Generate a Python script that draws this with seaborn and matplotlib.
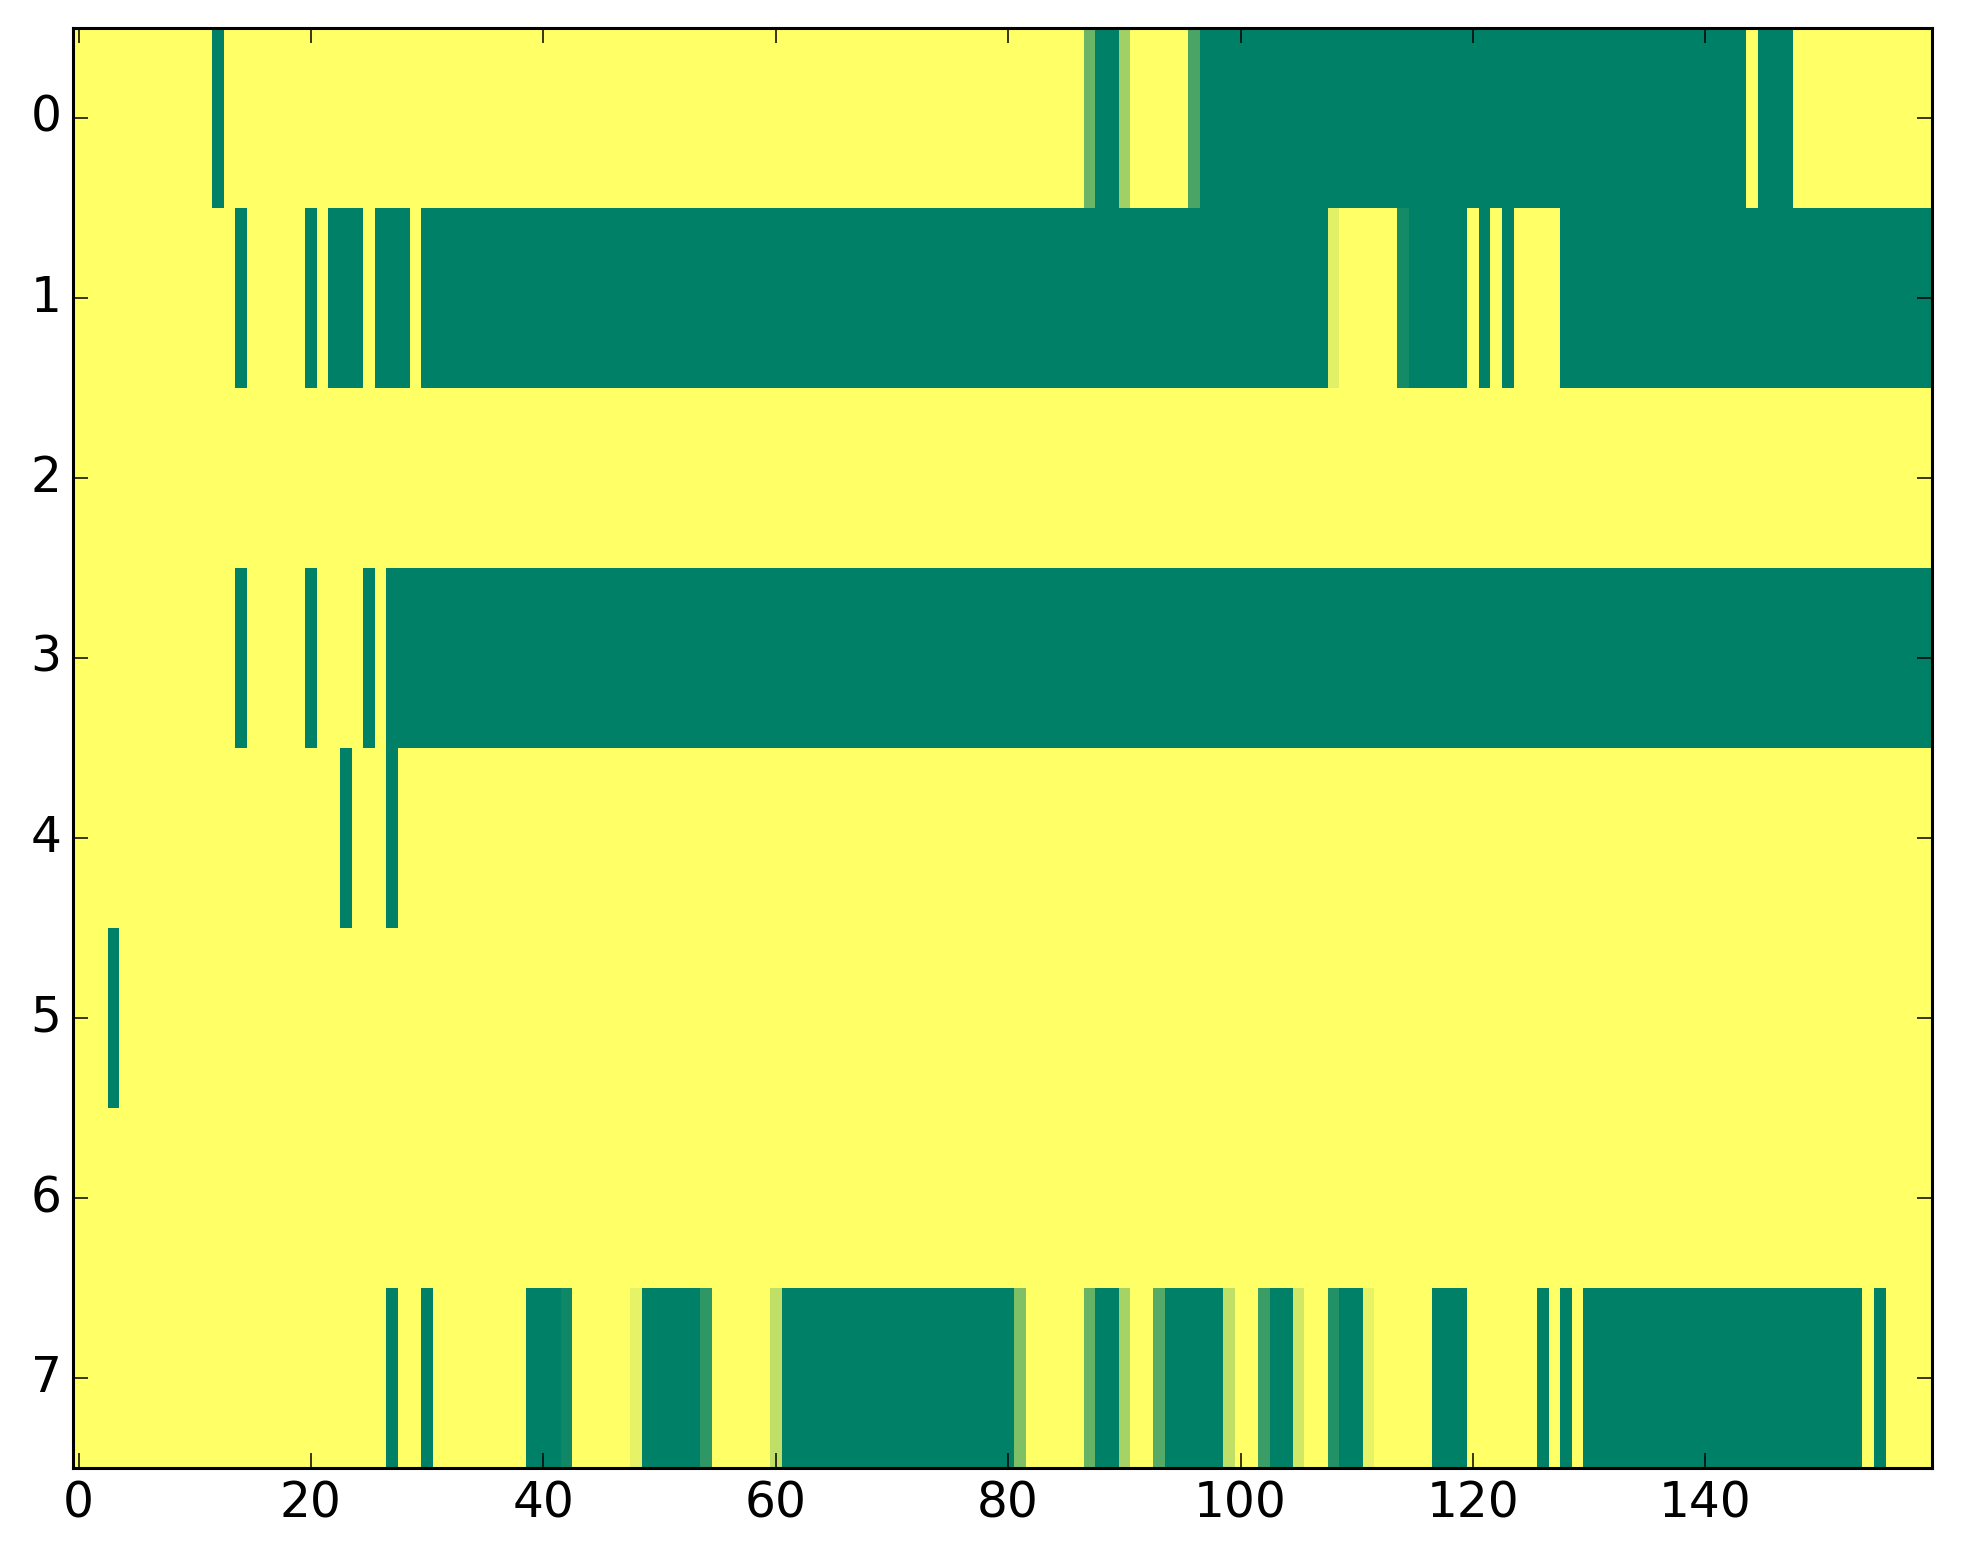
import matplotlib
matplotlib.use("Agg")
import matplotlib.pyplot as plt
import seaborn as sns
import numpy as np

# each row of the matrix as (value, run length) pairs, read left to right
row0 = [(0, 12), (1, 1), (0, 74), (0.58, 1), (1, 2), (0.37, 1), (0, 5), (0.71, 1),
        (1, 47), (0, 1), (1, 3), (0, 12)]
row1 = [(0, 14), (1, 1), (0, 5), (1, 1), (0, 1), (1, 3), (0, 1), (1, 3), (0, 1),
        (1, 78), (0.12, 1), (0, 5), (0.92, 1), (1, 5), (0, 1), (1, 1), (0, 1), (1, 1),
        (0, 4), (1, 32)]
row2 = [(0, 160)]
row3 = [(0, 14), (1, 1), (0, 5), (1, 1), (0, 4), (1, 1), (0, 1), (1, 133)]
row4 = [(0, 23), (1, 1), (0, 3), (1, 1), (0, 132)]
row5 = [(0, 3), (1, 1), (0, 156)]
row6 = [(0, 160)]
row7 = [(0, 27), (1, 1), (0, 2), (1, 1), (0, 8), (1, 3), (0.94, 1), (0, 5), (0.1, 1),
        (1, 5), (0.82, 1), (0, 5), (0.25, 1), (1, 20), (0.5, 1), (0, 5), (0.6, 1),
        (1, 2), (0.35, 1), (0, 2), (0.67, 1), (1, 5), (0.25, 1), (0, 2), (0.77, 1),
        (1, 2), (0.18, 1), (0, 2), (0.86, 1), (1, 2), (0.1, 1), (0, 5), (1, 3),
        (0, 6), (1, 1), (0, 1), (1, 1), (0, 1), (1, 24), (0, 1), (1, 1), (0, 4)]
rows = [row0, row1, row2, row3, row4, row5, row6, row7]

x_ticks = [0, 20, 40, 60, 80, 100, 120, 140]
y_ticks = [0, 1, 2, 3, 4, 5, 6, 7]


def expand(runs):
    vals = [v for v, _ in runs]
    counts = [n for _, n in runs]
    return np.repeat(vals, counts)


data = np.vstack([expand(r) for r in rows])

fig = plt.figure(figsize=(19.63, 15.64), dpi=100)
ax = fig.add_axes([0.03704, 0.06138, 0.94717, 0.92072])
sns.heatmap(data, cmap="summer_r", vmin=0, vmax=1, cbar=False, ax=ax,
            linewidths=0, rasterized=True)

ax.set_xticks([t + 0.5 for t in x_ticks])
ax.set_xticklabels([str(t) for t in x_ticks], rotation=0)
ax.set_yticks([t + 0.5 for t in y_ticks])
ax.set_yticklabels([str(t) for t in y_ticks], rotation=0)
ax.set_xlim(0, data.shape[1])
ax.set_ylim(data.shape[0], 0)

for side in ax.spines.values():
    side.set_visible(True)
    side.set_linewidth(2.2)
    side.set_color("black")

ax.tick_params(direction="in", length=10.5, width=1.1, top=True, right=True,
               labelsize=35, pad=8, colors="black")

fig.savefig("out.png", dpi=100)
